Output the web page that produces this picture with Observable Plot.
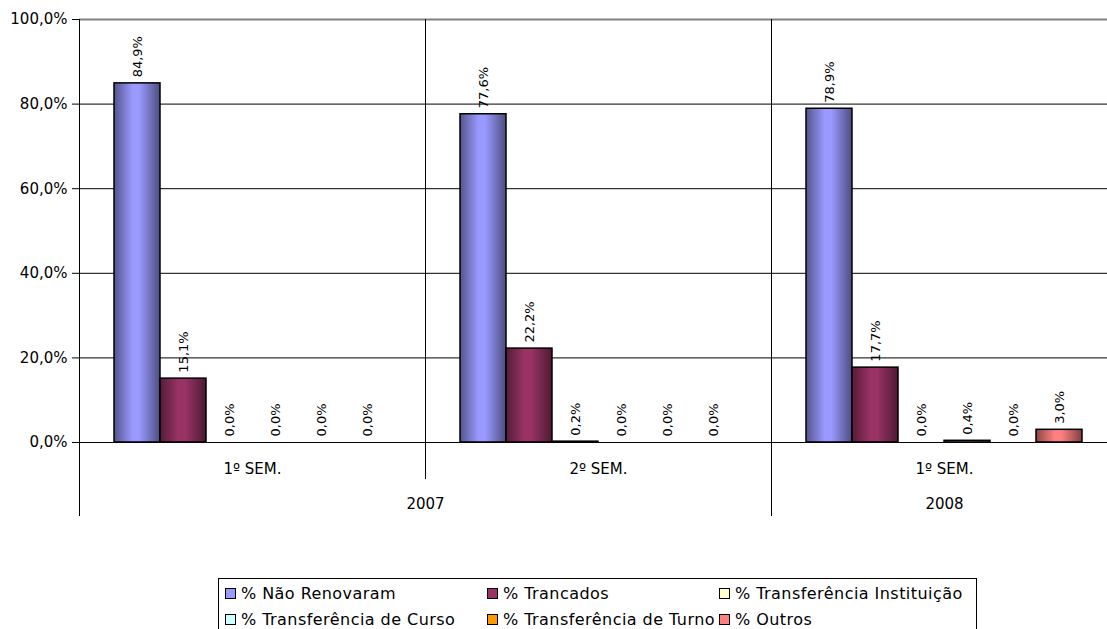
<!DOCTYPE html>
<html>
<head>
<meta charset="utf-8">
<script src="https://cdn.jsdelivr.net/npm/d3@7"></script>
<script src="https://cdn.jsdelivr.net/npm/@observablehq/plot@0.6"></script>
<style>
  html, body { margin: 0; padding: 0; background: #fff; overflow: hidden; }
  body { width: 1107px; height: 629px; position: relative; font-family: "DejaVu Sans", sans-serif; }
  svg { max-width: none !important; }
  #main { position: absolute; left: 0; top: 0; }
  #axis { position: absolute; left: 0; top: 442px; }
  #legend { position: absolute; left: 218px; top: 578px; width: 759px; height: 60px; border: 1px solid #000; box-sizing: border-box; font-size: 16px; color: #000; }
  .item { position: absolute; display: flex; align-items: center; white-space: nowrap; letter-spacing: 0.45px; }
  .sw { width: 9px; height: 9px; border: 1px solid #000; margin-right: 5px; }
</style>
</head>
<body>
<div id="main"></div>
<div id="axis"></div>
<div id="legend"></div>
<script>
// ---- data ----
const groupKeys = ["2007-1", "2007-2", "2008-1"];
const semLabels = ["1º SEM.", "2º SEM.", "1º SEM."];
const yearLabels = ["2007", "2007", "2008"];
const series = ["% Não Renovaram", "% Trancados", "% Transferência Instituição",
                "% Transferência de Curso", "% Transferência de Turno", "% Outros"];
const naoRenovaram = [84.9, 77.6, 78.9];
const trancados = [15.1, 22.2, 17.7];
const transfInstituicao = [0.0, 0.2, 0.0];
const transfCurso = [0.0, 0.0, 0.4];
const transfTurno = [0.0, 0.0, 0.0];
const outros = [0.0, 0.0, 3.0];
const yTicks = [0, 20, 40, 60, 80, 100];
const seriesColors = ["#9999FF", "#993366", "#FFFFCC", "#CCFFFF", "#FF9900", "#FF8080"];

const valueArrays = [naoRenovaram, trancados, transfInstituicao, transfCurso, transfTurno, outros];
const data = [];
groupKeys.forEach((g, gi) => {
  series.forEach((s, si) => data.push({group: g, series: s, value: valueArrays[si][gi]}));
});
const fmt = v => v.toFixed(1).replace(".", ",") + "%";
const gradIds = series.map((s, i) => "grad" + i);

const main = Plot.plot({
  width: 1117, height: 443,
  marginLeft: 79, marginRight: 0, marginTop: 19, marginBottom: 1,
  style: {fontFamily: "DejaVu Sans, sans-serif", fontSize: "15px", color: "#000", background: "transparent", overflow: "visible", maxWidth: "none"},
  fx: {domain: groupKeys, padding: 0, axis: null},
  x: {domain: series, paddingInner: 0, paddingOuter: 0.72, axis: null},
  y: {domain: [0, 100], ticks: yTicks, tickFormat: d => fmt(d), tickSize: 7, tickPadding: 5, label: null},
  color: {domain: series, range: gradIds.map(id => `url(#${id})`)},
  marks: [
    Plot.ruleY(yTicks.filter(t => t > 0 && t < 100), {stroke: "#000", strokeWidth: 1}),
    Plot.ruleY([100], {stroke: "#808080", strokeWidth: 2}),
    Plot.frame({anchor: "left", stroke: "#000"}),
    Plot.barY(data, {fx: "group", x: "series", y: "value", fill: "series", stroke: "#000", strokeWidth: 1.5}),
    Plot.text(data, {fx: "group", x: "series", y: "value", text: d => fmt(d.value), rotate: -90,
      textAnchor: "start", dy: -6, fontSize: 13, fill: "#000"}),
    Plot.ruleY([0], {stroke: "#000", strokeWidth: 1})
  ]
});

// gradient defs for the 3D-like shaded bars
function shade(c, k) { const col = d3.rgb(c); return d3.rgb(col.r * k, col.g * k, col.b * k).formatHex(); }
const defs = document.createElementNS("http://www.w3.org/2000/svg", "defs");
seriesColors.forEach((c, i) => {
  const lg = document.createElementNS("http://www.w3.org/2000/svg", "linearGradient");
  lg.setAttribute("id", gradIds[i]);
  lg.setAttribute("x1", "0"); lg.setAttribute("x2", "1"); lg.setAttribute("y1", "0"); lg.setAttribute("y2", "0");
  [[0, shade(c, 0.55)], [0.4, c], [0.55, c], [1, shade(c, 0.5)]].forEach(([o, col]) => {
    const st = document.createElementNS("http://www.w3.org/2000/svg", "stop");
    st.setAttribute("offset", o); st.setAttribute("stop-color", col);
    lg.appendChild(st);
  });
  defs.appendChild(lg);
});
main.insertBefore(defs, main.firstChild);
document.getElementById("main").appendChild(main);

// ---- multi-level category axis ----
const boundaries = [];
for (let i = 0; i <= groupKeys.length; i++) {
  const long = i === 0 || i === groupKeys.length || yearLabels[i] !== yearLabels[i - 1];
  boundaries.push({pos: i, long});
}
const yearSpans = [];
yearLabels.forEach((y, i) => {
  const last = yearSpans[yearSpans.length - 1];
  if (last && last.year === y) last.end = i + 1; else yearSpans.push({year: y, start: i, end: i + 1});
});
const axis = Plot.plot({
  width: 1117, height: 80,
  marginLeft: 79, marginRight: 0, marginTop: 0, marginBottom: 0,
  style: {fontFamily: "DejaVu Sans, sans-serif", fontSize: "15px", color: "#000", background: "transparent", maxWidth: "none"},
  x: {domain: [0, groupKeys.length], axis: null},
  y: {domain: [0, 80], range: [0, 80], axis: null},
  marks: [
    Plot.ruleX(boundaries, {x: "pos", y1: 0, y2: d => d.long ? 74 : 37, stroke: "#000"}),
    Plot.text(semLabels, {x: (d, i) => i + 0.5, y: 27, text: d => d, fontSize: 15, fill: "#000"}),
    Plot.text(yearSpans, {x: d => (d.start + d.end) / 2, y: 62, text: "year", fontSize: 15, fill: "#000"})
  ]
});
document.getElementById("axis").appendChild(axis);

// ---- legend ----
const legend = document.getElementById("legend");
const colX = [6, 268, 500];
const rowY = [14, 40];
series.forEach((s, i) => {
  const it = document.createElement("div");
  it.className = "item";
  it.style.left = colX[i % 3] + "px";
  it.style.top = (rowY[Math.floor(i / 3)] - 10) + "px";
  it.style.height = "20px";
  const sw = document.createElement("span");
  sw.className = "sw";
  sw.style.background = seriesColors[i];
  const tx = document.createElement("span");
  tx.textContent = s;
  it.appendChild(sw); it.appendChild(tx);
  legend.appendChild(it);
});
</script>
</body>
</html>
